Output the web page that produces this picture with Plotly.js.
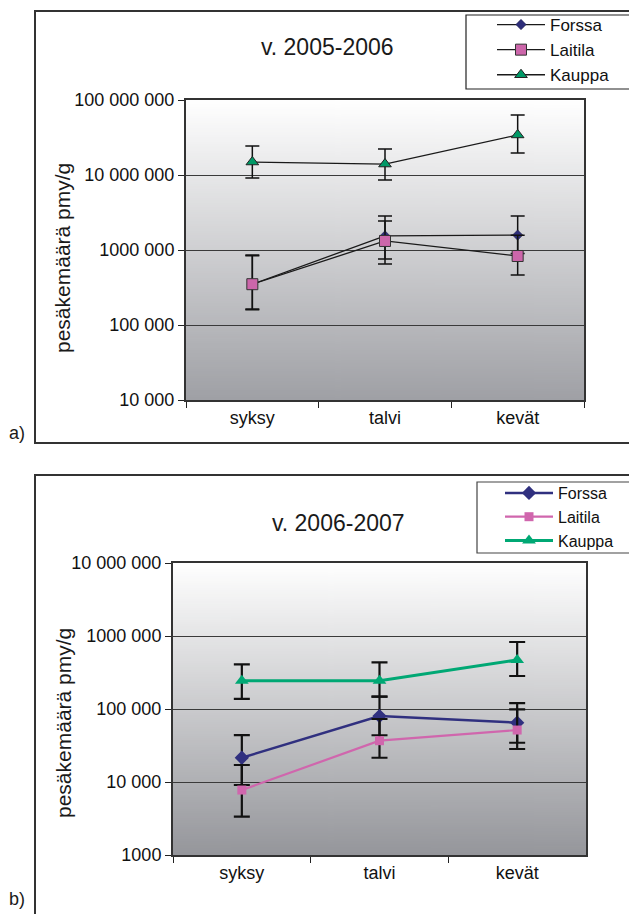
<!DOCTYPE html>
<html>
<head>
<meta charset="utf-8">
<script src="https://cdn.plot.ly/plotly-3.0.1.min.js"></script>
<style>
  html, body { margin: 0; padding: 0; background: #ffffff; }
  #chart { width: 629px; height: 914px; }
</style>
</head>
<body>
<div id="chart"></div>
<script>
// Seasons on the x axis
const categories = ['syksy', 'talvi', 'kevät'];

// a) v. 2005-2006 : mean colony counts and error-bar bounds (pmy/g)
const forssaA      = [350000, 1540000, 1580000];
const forssaAHigh  = [858000, 2840000, 2840000];
const forssaALow   = [163000, 650000, 900000];
const laitilaA     = [350000, 1320000, 832000];
const laitilaAHigh = [840000, 2440000, 1570000];
const laitilaALow  = [160000, 760000, 464000];
const kauppaA      = [14900000, 14000000, 34200000];
const kauppaAHigh  = [24400000, 22200000, 63000000];
const kauppaALow   = [9100000, 8600000, 19600000];

// b) v. 2006-2007
const forssaB      = [21500, 80000, 64900];
const forssaBHigh  = [44000, 148000, 120000];
const forssaBLow   = [9100, 43700, 34500];
const laitilaB     = [7760, 36800, 51500];
const laitilaBHigh = [17100, 73000, 99000];
const laitilaBLow  = [3350, 21500, 28300];
const kauppaB      = [244000, 244000, 469000];
const kauppaBHigh  = [409000, 436000, 828000];
const kauppaBLow   = [138000, 148000, 283000];

// Tick labels
const tickValsA = [1e4, 1e5, 1e6, 1e7, 1e8];
const tickTextA = ['10 000', '100 000', '1000 000', '10 000 000', '100 000 000'];
const tickValsB = [1e3, 1e4, 1e5, 1e6, 1e7];
const tickTextB = ['1000', '10 000', '100 000', '1000 000', '10 000 000'];

const W = 629, H = 914;
const FONT = 'Liberation Sans, Arial, sans-serif';
const px = v => v / W;
const py = v => 1 - v / H;

function gradientURL(bottom) {
  const c = document.createElement('canvas');
  c.width = 4; c.height = 256;
  const g = c.getContext('2d');
  const grd = g.createLinearGradient(0, 0, 0, 256);
  grd.addColorStop(0, '#ffffff');
  grd.addColorStop(1, bottom);
  g.fillStyle = grd;
  g.fillRect(0, 0, 4, 256);
  return c.toDataURL('image/png');
}

function errs(v, hi, lo) {
  return {
    type: 'data', symmetric: false,
    array: hi.map((h, i) => h - v[i]),
    arrayminus: lo.map((l, i) => v[i] - l)
  };
}

function series(name, y, hi, lo, opts) {
  return {
    type: 'scatter', mode: 'lines+markers', name: name,
    x: categories, y: y,
    error_y: Object.assign(errs(y, hi, lo), {color: '#111111', thickness: opts.eThick, width: opts.eWidth}),
    line: {color: opts.lineColor, width: opts.lineWidth},
    marker: opts.marker,
    xaxis: opts.xaxis, yaxis: opts.yaxis, legend: opts.legend
  };
}

// Chart a styling: thin black lines, coloured markers
const aBase = {xaxis: 'x', yaxis: 'y', legend: 'legend', eThick: 1.5, eWidth: 7, lineWidth: 1.3, lineColor: '#1a1a1a'};
// Chart b styling: coloured lines
const bBase = {xaxis: 'x2', yaxis: 'y2', legend: 'legend2', eThick: 2.2, eWidth: 8};

const traces = [
  series('Forssa', forssaA, forssaAHigh, forssaALow, Object.assign({}, aBase, {
    marker: {symbol: 'diamond', size: 8, color: '#2e2e7a', line: {color: '#1a1a40', width: 0.5}}})),
  series('Laitila', laitilaA, laitilaAHigh, laitilaALow, Object.assign({}, aBase, {
    marker: {symbol: 'square', size: 11, color: '#cc66aa', line: {color: '#333333', width: 1}}})),
  series('Kauppa', kauppaA, kauppaAHigh, kauppaALow, Object.assign({}, aBase, {
    marker: {symbol: 'triangle-up', size: 11, color: '#009966', line: {color: '#222222', width: 1}}})),

  series('Forssa', forssaB, forssaBHigh, forssaBLow, Object.assign({}, bBase, {
    lineColor: '#30307f', lineWidth: 2.5,
    marker: {symbol: 'diamond', size: 11, color: '#30307f'}})),
  series('Laitila', laitilaB, laitilaBHigh, laitilaBLow, Object.assign({}, bBase, {
    lineColor: '#d066ad', lineWidth: 2.2,
    marker: {symbol: 'square', size: 9, color: '#d066ad'}})),
  series('Kauppa', kauppaB, kauppaBHigh, kauppaBLow, Object.assign({}, bBase, {
    lineColor: '#00a874', lineWidth: 3,
    marker: {symbol: 'triangle-up', size: 12, color: '#00a874'}}))
];

// plot-area pixel boxes
const boxA = {l: 186, r: 584, t: 100, b: 400};
const boxB = {l: 173, r: 586, t: 563, b: 855};

function xAxis(box, anchor) {
  return {
    domain: [px(box.l), px(box.r)], anchor: anchor, type: 'category',
    range: [-0.5, categories.length - 0.5], autorange: false,
    tickson: 'boundaries', ticks: 'outside', ticklen: 6, tickwidth: 1, tickcolor: '#222',
    showline: true, linecolor: '#333', linewidth: 2, mirror: true,
    showgrid: false, zeroline: false, automargin: false,
    tickfont: {family: FONT, size: 18, color: '#111'}
  };
}
function yAxis(box, anchor, range, vals, text) {
  return {
    domain: [py(box.b), py(box.t)], anchor: anchor, type: 'log', range: range,
    tickmode: 'array', tickvals: vals, ticktext: text,
    ticks: 'outside', ticklen: 6, tickwidth: 1, tickcolor: '#222',
    showline: true, linecolor: '#333', linewidth: 2, mirror: true,
    showgrid: true, gridcolor: '#3a3a3a', gridwidth: 1, zeroline: false, automargin: false,
    tickfont: {family: FONT, size: 18, color: '#111'}
  };
}

function ann(text, x, y, size, angle) {
  return {text: text, x: px(x), y: py(y), xref: 'paper', yref: 'paper', showarrow: false,
          xanchor: 'center', yanchor: 'middle', textangle: angle || 0,
          font: {family: FONT, size: size, color: '#1a1a1a'}};
}

// legend entries sit inside a separately drawn frame
function legendBox(xl, yt, size) {
  return {x: px(xl), y: py(yt), xanchor: 'left', yanchor: 'top', xref: 'paper', yref: 'paper',
          bgcolor: 'rgba(0,0,0,0)', borderwidth: 0, itemwidth: 48,
          font: {family: FONT, size: size, color: '#111'}};
}

function frame(x0, y0, x1, y1, color, fill, layer) {
  return {type: 'rect', xref: 'paper', yref: 'paper', x0: px(x0), x1: px(x1), y0: py(y1), y1: py(y0),
          line: {color: color, width: layer === 'above' ? 1.2 : 2}, fillcolor: fill, layer: layer};
}

const layout = {
  width: W, height: H,
  margin: {l: 0, r: 0, t: 0, b: 0},
  paper_bgcolor: '#ffffff', plot_bgcolor: 'rgba(0,0,0,0)',
  showlegend: true,
  xaxis: xAxis(boxA, 'y'),
  yaxis: yAxis(boxA, 'x', [4, 8], tickValsA, tickTextA),
  xaxis2: xAxis(boxB, 'y2'),
  yaxis2: yAxis(boxB, 'x2', [3, 7], tickValsB, tickTextB),
  legend: legendBox(492, 7, 17),
  legend2: legendBox(500, 476, 16),
  images: [
    {source: gradientURL('#9fa0a5'), xref: 'paper', yref: 'paper', x: px(boxA.l), y: py(boxA.t),
     sizex: px(boxA.r) - px(boxA.l), sizey: py(boxA.t) - py(boxA.b), sizing: 'stretch',
     xanchor: 'left', yanchor: 'top', layer: 'below'},
    {source: gradientURL('#95969b'), xref: 'paper', yref: 'paper', x: px(boxB.l), y: py(boxB.t),
     sizex: px(boxB.r) - px(boxB.l), sizey: py(boxB.t) - py(boxB.b), sizing: 'stretch',
     xanchor: 'left', yanchor: 'top', layer: 'below'}
  ],
  shapes: [
    // outer chart frames
    frame(35, 11, 660, 443, '#333', 'rgba(0,0,0,0)', 'below'),
    frame(35, 475, 660, 960, '#333', 'rgba(0,0,0,0)', 'below'),
    // legend frames
    frame(466, 15, 660, 89, '#222', 'rgba(0,0,0,0)', 'above'),
    frame(477, 482, 660, 553, '#444', 'rgba(0,0,0,0)', 'above')
  ],
  annotations: [
    ann('v. 2005-2006', 327, 47, 23),
    ann('v. 2006-2007', 338, 523, 23),
    ann('pesäkemäärä pmy/g', 63, 258, 21, -90),
    ann('pesäkemäärä pmy/g', 63, 723, 21, -90),
    ann('a)', 17, 433, 18),
    ann('b)', 17, 899, 18)
  ]
};

Plotly.newPlot('chart', traces, layout, {displayModeBar: false, staticPlot: true});
</script>
</body>
</html>
